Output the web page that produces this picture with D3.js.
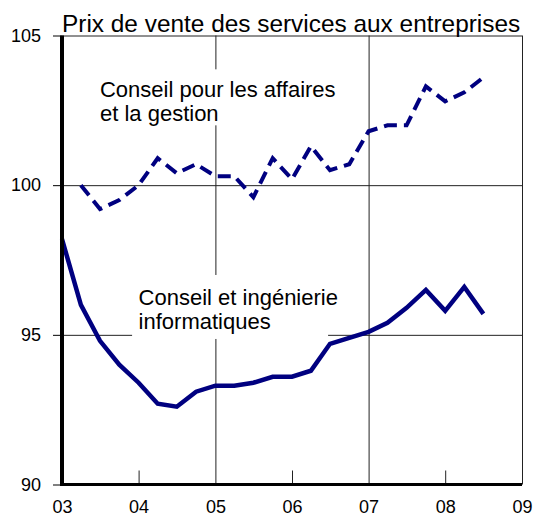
<!DOCTYPE html>
<html>
<head>
<meta charset="utf-8">
<script src="https://cdn.jsdelivr.net/npm/d3@7"></script>
<style>
	body { margin: 0; background: #fff; }
	svg { display: block; font-family: "Liberation Sans", Arial, sans-serif; }
</style>
</head>
<body>
<div id="chart"></div>
<script>
// quarterly points, 2003 T1 -> 2008 T3
const quarters = ['2003-01', '2003-04', '2003-07', '2003-10', '2004-01', '2004-04', '2004-07', '2004-10',
	'2005-01', '2005-04', '2005-07', '2005-10', '2006-01', '2006-04', '2006-07', '2006-10',
	'2007-01', '2007-04', '2007-07', '2007-10', '2008-01', '2008-04', '2008-07'];

// Conseil et ingenierie informatiques (solid)
const informatique = [98.2, 96.0, 94.8, 94.0, 93.4, 92.7, 92.6, 93.1, 93.3, 93.3, 93.4, 93.6,
	93.6, 93.8, 94.7, 94.9, 95.1, 95.4, 95.9, 96.5, 95.8, 96.6, 95.7];

// Conseil pour les affaires et la gestion (dashed)
const affaires = [null, 100.0, 99.2, 99.5, 100.0, 100.9, 100.4, 100.7, 100.3, 100.3, 99.6, 100.9,
	100.2, 101.3, 100.5, 100.7, 101.8, 102.0, 102.0, 103.3, 102.8, 103.1, 103.6];

const yearTicks = ['2003', '2004', '2005', '2006', '2007', '2008', '2009'];
const yTicks = [90, 95, 100, 105];
const title = 'Prix de vente des services aux entreprises';
const labelAffaires = ['Conseil pour les affaires', 'et la gestion'];
const labelInfo = ['Conseil et ingénierie', 'informatiques'];

const width = 535, height = 518;
const margin = {top: 35.5, right: 13, bottom: 33.5, left: 62};
const w = width - margin.left - margin.right;
const h = height - margin.top - margin.bottom;

const parseQ = d3.timeParse('%Y-%m');
const parseY = d3.timeParse('%Y');
const dates = quarters.map(parseQ);
const years = yearTicks.map(parseY);

const svg = d3.select('#chart').append('svg')
	.attr('width', width)
	.attr('height', height);

const g = svg.append('g')
	.attr('transform', `translate(${margin.left},${margin.top})`);

const x = d3.scaleTime()
	.domain([years[0], years[years.length - 1]])
	.range([0, w]);
const y = d3.scaleLinear()
	.domain([90, 105])
	.range([h, 0]);

// horizontal grid + top border
g.append('g')
	.attr('class', 'grid')
	.call(d3.axisLeft(y).tickValues([95, 100, 105]).tickSize(-w).tickFormat(''))
	.call(s => s.select('.domain').remove());

// vertical grid: full lines on odd years, short ticks otherwise
g.append('g')
	.attr('class', 'grid')
	.attr('transform', `translate(0,${h})`)
	.call(d3.axisBottom(x).tickValues([years[2], years[4], years[6]]).tickSize(-h).tickFormat(''))
	.call(s => s.select('.domain').remove());
g.append('g')
	.attr('class', 'grid')
	.attr('transform', `translate(0,${h})`)
	.call(d3.axisBottom(x).tickValues([years[1], years[3], years[5]]).tickSize(-14).tickFormat(''))
	.call(s => s.select('.domain').remove());

g.selectAll('.grid line')
	.attr('stroke', '#222')
	.attr('stroke-width', 1);

// white boxes behind the labels
g.append('rect')
	.attr('x', x(parseQ('2003-06')))
	.attr('y', y(103.87))
	.attr('width', 250)
	.attr('height', 56)
	.attr('fill', '#fff');
g.append('rect')
	.attr('x', x(parseQ('2003-12')))
	.attr('y', y(97.0))
	.attr('width', 196)
	.attr('height', 64)
	.attr('fill', '#fff');

g.append('text')
	.attr('y', y(102.95))
	.attr('font-size', 22)
	.selectAll('tspan')
	.data(labelAffaires)
	.join('tspan')
	.attr('x', x(parseQ('2003-07')))
	.attr('dy', (d, i) => i ? 24.5 : 0)
	.text(d => d);

g.append('text')
	.attr('font-size', 22)
	.attr('y', y(96.0))
	.selectAll('tspan')
	.data(labelInfo)
	.join('tspan')
	.attr('x', x(parseQ('2004-01')))
	.attr('dy', (d, i) => i ? 24.5 : 0)
	.text(d => d);

// series
const line = d3.line()
	.defined(d => d[1] != null)
	.x(d => x(d[0]))
	.y(d => y(d[1]));

g.append('path')
	.datum(dates.map((d, i) => [d, affaires[i]]))
	.attr('d', line)
	.attr('fill', 'none')
	.attr('stroke', '#000080')
	.attr('stroke-width', 4)
	.attr('stroke-dasharray', '13,7');

g.append('path')
	.datum(dates.map((d, i) => [d, informatique[i]]))
	.attr('d', line)
	.attr('fill', 'none')
	.attr('stroke', '#000080')
	.attr('stroke-width', 4.5)
	.attr('stroke-linejoin', 'miter');

// axes
const yAxis = g.append('g')
	.call(d3.axisLeft(y).tickValues(yTicks).tickSize(9).tickPadding(12));
yAxis.select('.domain').attr('stroke-width', 4).attr('d', `M0,${h}V0`);
yAxis.selectAll('.tick line').attr('stroke-width', 1);
yAxis.selectAll('text').attr('font-size', 18).attr('font-family', null).attr('fill', '#000');

const xAxis = g.append('g')
	.attr('transform', `translate(0,${h})`)
	.call(d3.axisBottom(x).tickValues(years).tickSize(0).tickPadding(16).tickFormat(d3.timeFormat('%y')));
xAxis.select('.domain').attr('stroke-width', 3).attr('d', `M-2,0H${w}`);
xAxis.selectAll('text').attr('font-size', 18).attr('font-family', null).attr('fill', '#000');

// title
svg.append('text')
	.attr('x', margin.left)
	.attr('y', 32)
	.attr('font-size', 24.4)
	.text(title);
</script>
</body>
</html>
